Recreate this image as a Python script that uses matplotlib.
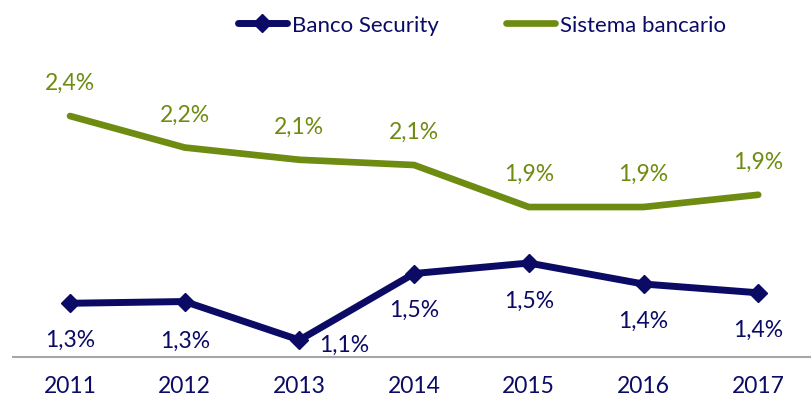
import matplotlib
matplotlib.use("Agg")
import matplotlib.pyplot as plt

years = ["2011", "2012", "2013", "2014", "2015", "2016", "2017"]
banco_security = [1.31, 1.32, 1.10, 1.48, 1.54, 1.42, 1.37]
sistema_bancario = [2.38, 2.20, 2.13, 2.10, 1.86, 1.86, 1.93]
series_names = ["Banco Security", "Sistema bancario"]

NAVY = "#0B0B66"
GREEN = "#6E8B12"

plt.rcParams["font.family"] = ["Lato", "DejaVu Sans"]

W, H = 811, 402
fig = plt.figure(figsize=(W / 100, H / 100), dpi=100)
ax = fig.add_axes([13 / W, (H - 358) / H, 798 / W, 358 / H])

x = list(range(len(years)))
ax.plot(x, sistema_bancario, color=GREEN, lw=4.8, solid_capstyle="round",
        solid_joinstyle="round", label=series_names[1], zorder=3)
ax.plot(x, banco_security, color=NAVY, lw=5.0, marker="D", markersize=9,
        solid_capstyle="round", label=series_names[0], zorder=3)

ax.set_xlim(-0.497, -0.497 + 798 / 114.7)
ax.set_ylim(1.003, 1.003 + 358 / 175)

fs = 16.5
for i, v in enumerate(sistema_bancario):
    ax.annotate(f"{v:.1f}%".replace(".", ","), (i, v), xytext=(0, 24),
                textcoords="offset points", ha="center", va="center",
                color=GREEN, fontsize=fs)

nav_off = [(0, -26), (0, -28), (32, -3), (0, -26), (0, -27), (0, -26), (0, -26)]
for i, v in enumerate(banco_security):
    dx, dy = nav_off[i]
    ax.annotate(f"{v:.1f}%".replace(".", ","), (i, v), xytext=(dx, dy),
                textcoords="offset points", ha="center", va="center",
                color=NAVY, fontsize=fs)

ax.set_xticks(x)
ax.set_xticklabels(years, color=NAVY, fontsize=16.5)
ax.tick_params(axis="x", length=0, pad=13)
ax.set_yticks([])
for s in ["top", "left", "right"]:
    ax.spines[s].set_visible(False)
ax.spines["bottom"].set_color("#A6A6A6")
ax.spines["bottom"].set_linewidth(1.5)

h, l = ax.get_legend_handles_labels()
leg = fig.legend([h[1], h[0]], [l[1], l[0]], loc="center", ncol=2,
                 bbox_to_anchor=(482 / W, 1 - 26 / H), frameon=False,
                 fontsize=16, handlelength=2.2, handletextpad=0.25,
                 columnspacing=3.0, borderaxespad=0, borderpad=0)
for t in leg.get_texts():
    t.set_color(NAVY)

fig.savefig("out.png", dpi=100)
